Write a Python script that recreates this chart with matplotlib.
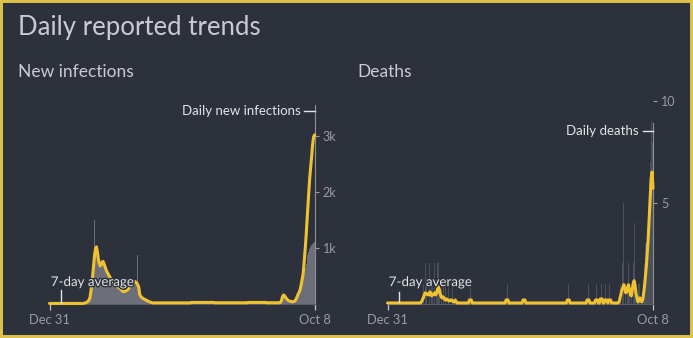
import numpy as np
import matplotlib
matplotlib.use('Agg')
import matplotlib.pyplot as plt
from matplotlib import patheffects as pe
from matplotlib.patches import Rectangle

# colours
bg = '#2c313b'
frame = '#dcc24a'
yellow = '#f0c232'
bar_gray = '#6c6f77'
text_light = '#e2e3e5'
text_dim = '#9a9ca1'
head = '#c9cbd0'

# one value per day, Dec 31 .. Oct 8
n_days = 283
days = np.arange(n_days)
date_labels = ['Dec 31', 'Oct 8']

# new infections, 7-day average
cases_avg = ([10] * 37 +
             [15, 20, 25, 35, 50, 70, 110, 220, 360, 520,
              700, 880, 990, 1020, 930, 800, 720, 680, 700, 750,
              760, 720, 670, 620, 580, 550, 520, 490, 460, 430,
              405, 390, 370, 350, 340, 320, 300, 290, 280, 260,
              240, 225, 220, 225, 230, 240, 250, 270, 300, 320,
              340, 360, 380, 395, 400, 390, 370, 340, 300, 170,
              140, 120, 105, 95, 85, 75, 70, 60, 50, 40,
              35, 30, 25, 20] +
             [20] * 40 + [28] * 25 + [22] * 35 + [28] * 20 + [22] * 15 +
             [30, 70, 130, 160, 150, 125, 100, 80, 65, 55,
              50, 45, 40, 40, 45, 55, 75, 110, 150, 190,
              220, 280, 360, 450, 550, 750, 960, 1200, 1480, 1760,
              2020, 2270, 2450, 2640, 2850, 2980, 3020])

# new infections, daily reported
cases_daily = ([8] * 37 +
               [12, 18, 22, 30, 45, 65, 100, 200, 340, 500,
                680, 1500, 960, 1000, 900, 780, 700, 660, 690, 740,
                750, 700, 650, 600, 560, 530, 500, 470, 440, 410,
                390, 375, 355, 340, 325, 305, 290, 280, 270, 250,
                230, 215, 210, 215, 220, 230, 240, 260, 290, 310,
                330, 350, 370, 385, 390, 380, 360, 880, 290, 160,
                130, 110, 100, 90, 80, 70, 65, 55, 45, 35,
                30, 25, 20, 18] +
               [18] * 135 +
               [25, 60, 120, 150, 140, 115, 90, 70, 60, 50,
                45, 40, 35, 35, 40, 50, 60, 90, 120, 160,
                200, 260, 330, 400, 480, 560, 640, 720, 800, 870,
                930, 980, 1020, 1050, 1070, 1090, 1100])

# deaths, 7-day average
deaths_avg = ([0.05] * 36 +
              [0.1, 0.2, 0.3, 0.45, 0.55, 0.5, 0.5, 0.45, 0.45, 0.6,
               0.5, 0.4, 0.45, 0.5, 0.55, 0.45, 0.5, 0.7, 0.85, 0.7,
               0.5, 0.35, 0.3, 0.35, 0.3, 0.2, 0.2, 0.25, 0.2, 0.15,
               0.15, 0.2, 0.2, 0.15, 0.1, 0.1, 0.2, 0.1, 0.05, 0.05] +
              [0.05] * 11 + [0.2] * 3 + [0.05] * 36 + [0.2] * 3 +
              [0.05] * 15 + [0.2] * 3 + [0.05] * 44 + [0.2] * 3 +
              [0.05] * 18 + [0.2] * 3 + [0.05] * 6 + [0.2] * 3 +
              [0.05] * 2 + [0.25] * 3 + [0.05] * 2 + [0.2] * 3 +
              [0.05] + [0.2] * 3 + [0.05] * 8 +
              [0.1, 0.3, 0.5, 0.7, 0.8, 0.95, 0.8, 0.55, 0.6, 0.8,
               0.95, 0.7, 0.45, 0.4, 0.7, 1.0, 1.15, 0.9, 0.5, 0.3,
               0.1, 0.2, 0.3, 0.15, 0.1, 0.2, 0.5, 0.9, 1.4, 1.9,
               2.6, 3.3, 4.3, 5.2, 6.2, 6.5, 5.7])

# deaths, daily reported (only days with deaths)
death_days = [38, 40, 41, 43, 45, 47, 48, 50, 52, 53, 54, 55, 57, 59, 62, 65, 69,
              88, 127, 145, 192, 213, 222, 227, 232, 236,
              247, 248, 250, 251, 253, 255, 256, 257, 259, 261, 262, 263,
              267, 268, 272, 273, 274, 275, 276, 277, 278, 279, 280, 281, 282]
death_counts = [1, 2, 1, 1, 2, 1, 1, 2, 1, 2, 2, 1, 1, 1, 1, 1, 1,
                1, 1, 1, 1, 1, 1, 1, 1, 1,
                1, 1, 2, 5, 1, 1, 2, 1, 1, 2, 4, 1,
                1, 1, 1, 2, 3, 3, 3, 4, 6, 7, 9, 8, 6]

deaths_daily = np.zeros(n_days)
deaths_daily[death_days] = death_counts

W, H = 693, 338
fig = plt.figure(figsize=(W / 100, H / 100), dpi=100, facecolor=bg)
plt.rcParams['font.family'] = ['Lato', 'DejaVu Sans']

fig.add_artist(Rectangle((0, 0), 1, 1, transform=fig.transFigure,
                         fill=False, edgecolor=frame, linewidth=4.3))

fig.text(18 / W, 1 - 28 / H, 'Daily reported trends', fontsize=18.5,
         color=head, va='center', ha='left')
fig.text(18 / W, 1 - 72 / H, 'New infections', fontsize=12.5,
         color=head, va='center', ha='left')
fig.text(357 / W, 1 - 72 / H, 'Deaths', fontsize=12.5,
         color=head, va='center', ha='left')

halo = [pe.withStroke(linewidth=2, foreground=bg)]


def panel(rect, ymax, daily, avg, ticks, ticklabels, spine_top,
          label, label_y, avg_y, avg_tick, bar_alpha):
    ax = fig.add_axes(rect)
    ax.set_facecolor(bg)
    ax.set_xlim(0, n_days - 1)
    ax.set_ylim(0, ymax)

    ax.bar(days, daily, width=1.0, color=bar_gray, alpha=bar_alpha,
           linewidth=0, zorder=1)
    ax.plot(days, avg, color=yellow, lw=2.2, solid_joinstyle='round',
            solid_capstyle='round', clip_on=False, zorder=3)

    for s in ['top', 'left']:
        ax.spines[s].set_visible(False)
    ax.spines['bottom'].set_color('#5a5e66')
    ax.spines['bottom'].set_linewidth(0.8)
    ax.spines['right'].set_color('#8d9096')
    ax.spines['right'].set_linewidth(0.8)
    ax.spines['right'].set_bounds(0, spine_top)

    ax.yaxis.tick_right()
    ax.set_yticks(ticks)
    ax.set_yticklabels(ticklabels)
    ax.tick_params(axis='y', length=3, width=0.8, color=text_dim,
                   labelcolor=text_dim, labelsize=9, pad=3)
    ax.set_xticks([0, n_days - 1])
    ax.set_xticklabels(date_labels)
    ax.tick_params(axis='x', length=4.5, width=0.9, color='#c4c6ca',
                   labelcolor=text_dim, labelsize=9.3, pad=3)

    # series label at the top of the axis
    ax.text(n_days - 16, label_y, label, ha='right', va='center',
            fontsize=9.5, color=text_light, zorder=5)
    ax.plot([n_days - 12, n_days - 1], [label_y, label_y], color=text_light,
            lw=1, clip_on=False, zorder=5)

    # 7-day average callout
    ax.text(1.4, avg_y, '7-day average', ha='left', va='center',
            fontsize=9.6, color=text_light, path_effects=halo, zorder=6)
    ax.plot([12.3, 12.3], avg_tick, color=text_light, lw=1, zorder=6)
    return ax


bottom = 34 / H
height = 209 / H
panel([49.5 / W, bottom, 265 / W, height], 209 / 0.056,
      cases_daily, cases_avg, [1000, 2000, 3000], ['1k', '2k', '3k'], 3553,
      'Daily new infections', 3446, 393, [20, 250], 1.0)
panel([387.5 / W, bottom, 265.5 / W, height], 209 / 20.3,
      deaths_daily, deaths_avg, [5, 10], ['5', '10'], 8.9,
      'Daily deaths', 8.52, 1.08, [0.1, 0.6], 0.5)

fig.savefig('out.png', dpi=100, facecolor=bg)
